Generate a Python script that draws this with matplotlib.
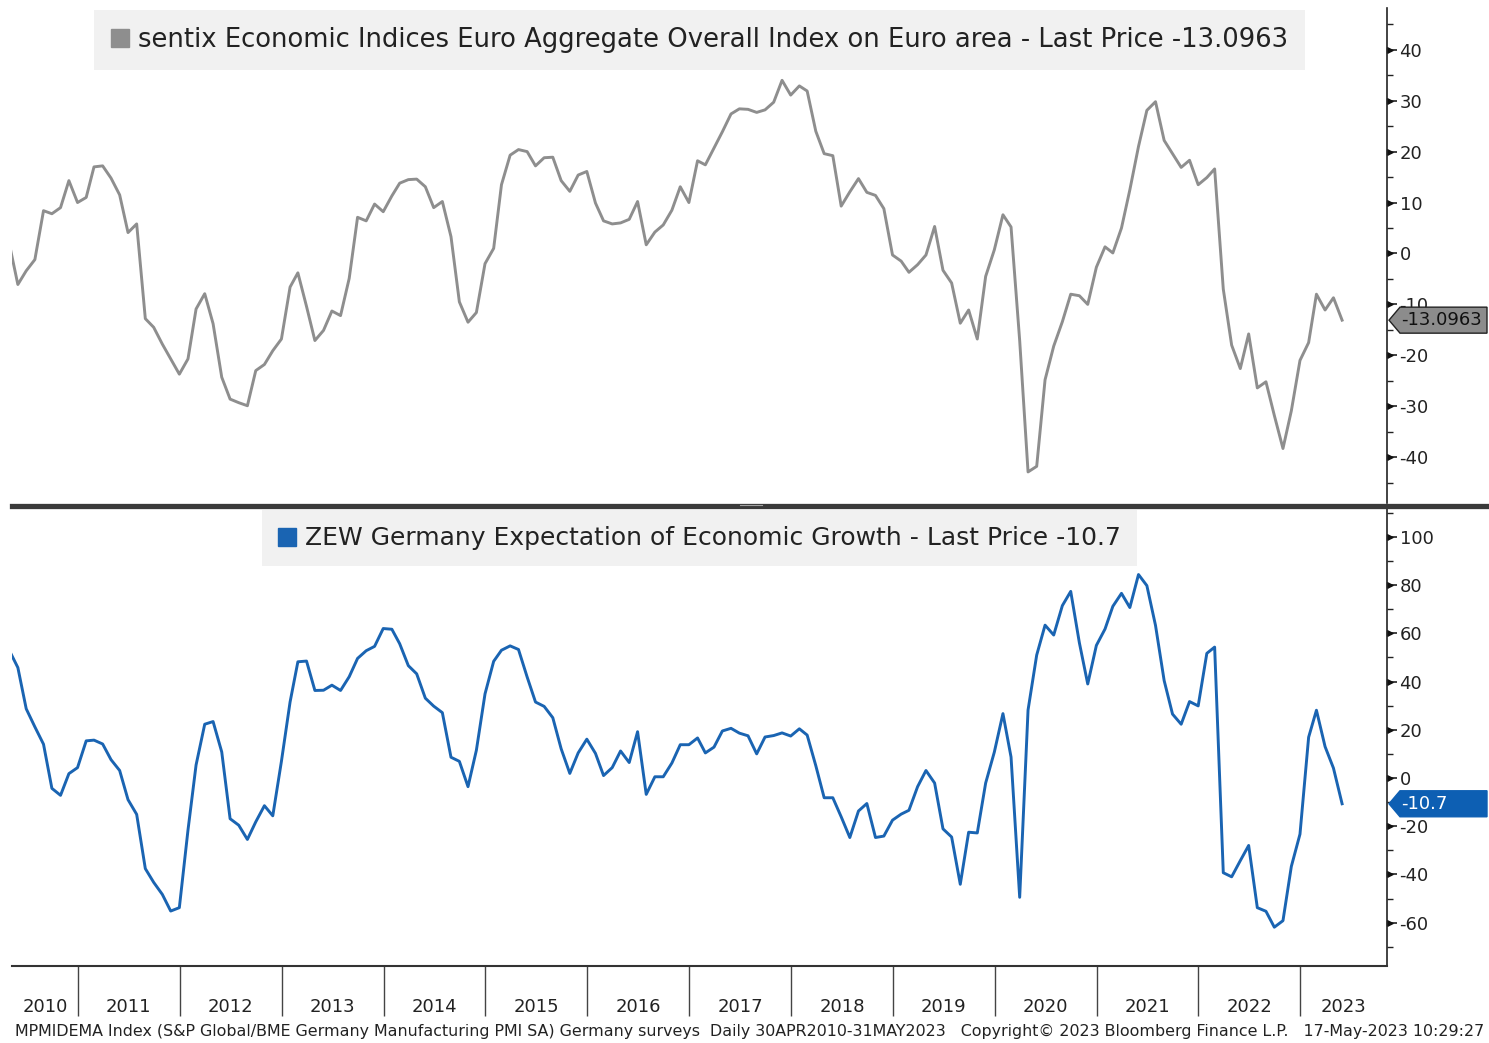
import numpy as np
import pandas as pd
import matplotlib
matplotlib.use("Agg")
import matplotlib.pyplot as plt
from matplotlib.lines import Line2D
from matplotlib.patches import Polygon
from matplotlib.path import Path
from matplotlib.transforms import IdentityTransform

plt.rcParams['font.family'] = ['DejaVu Sans']
plt.rcParams['axes.unicode_minus'] = False

# monthly data, month-end, Apr 2010 .. May 2023
dates = pd.date_range('2010-04-30', '2023-05-31', freq='ME')

sentix = [
    2.0, -6.1, -3.4, -1.2, 8.4, 7.8, 9.0, 14.3, 10.0,                      # 2010
    11.0, 17.0, 17.2, 14.8, 11.5, 4.1, 5.8, -12.8, -14.5, -17.8, -20.7, -23.7,  # 2011
    -20.7, -10.9, -7.9, -13.8, -24.3, -28.6, -29.3, -29.9, -23.0, -21.8, -19.1, -16.8,  # 2012
    -6.6, -3.8, -10.4, -17.1, -15.1, -11.3, -12.2, -4.9, 7.1, 6.4, 9.7, 8.2,  # 2013
    11.3, 13.8, 14.5, 14.6, 13.1, 9.0, 10.2, 3.3, -9.5, -13.5, -11.6, -2.0,  # 2014
    1.0, 13.5, 19.3, 20.4, 20.0, 17.2, 18.8, 18.9, 14.3, 12.2, 15.4, 16.1,   # 2015
    9.9, 6.4, 5.8, 6.0, 6.7, 10.2, 1.7, 4.2, 5.6, 8.5, 13.1, 10.0,          # 2016
    18.2, 17.4, 20.7, 23.9, 27.4, 28.4, 28.3, 27.7, 28.2, 29.7, 34.0, 31.1,  # 2017
    32.9, 31.9, 24.0, 19.6, 19.2, 9.3, 12.1, 14.7, 12.0, 11.4, 8.8, -0.3,    # 2018
    -1.5, -3.7, -2.2, -0.3, 5.3, -3.3, -5.8, -13.7, -11.1, -16.8, -4.5, 0.7,  # 2019
    7.6, 5.2, -17.1, -42.9, -41.8, -24.8, -18.2, -13.4, -8.0, -8.3, -10.0, -2.7,  # 2020
    1.3, 0.1, 5.0, 12.5, 21.0, 28.1, 29.8, 22.2, 19.6, 16.9, 18.3, 13.5,     # 2021
    14.9, 16.6, -7.0, -18.0, -22.6, -15.8, -26.4, -25.2, -31.8, -38.3, -30.9, -21.0,  # 2022
    -17.5, -8.0, -11.1, -8.7, -13.0963,                                      # 2023
]

zew = [
    53.0, 45.8, 28.7, 21.2, 14.0, -4.3, -7.2, 1.8, 4.3,                     # 2010
    15.4, 15.7, 14.1, 7.6, 3.1, -9.0, -15.1, -37.6, -43.3, -48.3, -55.2, -53.8,  # 2011
    -21.6, 5.4, 22.3, 23.4, 10.8, -16.9, -19.6, -25.5, -18.2, -11.5, -15.7, 6.9,  # 2012
    31.5, 48.2, 48.5, 36.3, 36.4, 38.5, 36.3, 42.0, 49.6, 52.8, 54.6, 62.0,  # 2013
    61.7, 55.7, 46.6, 43.2, 33.1, 29.8, 27.1, 8.6, 6.9, -3.6, 11.5, 34.9,    # 2014
    48.4, 53.0, 54.8, 53.3, 41.9, 31.5, 29.7, 25.0, 12.1, 1.9, 10.4, 16.1,   # 2015
    10.2, 1.0, 4.3, 11.2, 6.4, 19.2, -6.8, 0.5, 0.5, 6.2, 13.8, 13.8,        # 2016
    16.6, 10.4, 12.8, 19.5, 20.6, 18.6, 17.5, 10.0, 17.0, 17.6, 18.7, 17.4,  # 2017
    20.4, 17.8, 5.1, -8.2, -8.2, -16.1, -24.7, -13.7, -10.6, -24.7, -24.1, -17.5,  # 2018
    -15.0, -13.4, -3.6, 3.1, -2.1, -21.1, -24.5, -44.1, -22.5, -22.8, -2.1, 10.7,  # 2019
    26.7, 8.7, -49.5, 28.2, 51.0, 63.4, 59.3, 71.5, 77.4, 56.1, 39.0, 55.0,  # 2020
    61.8, 71.2, 76.6, 70.7, 84.4, 79.8, 63.3, 40.4, 26.5, 22.3, 31.7, 29.9,  # 2021
    51.7, 54.3, -39.3, -41.0, -34.3, -28.0, -53.8, -55.3, -61.9, -59.2, -36.7, -23.3,  # 2022
    16.9, 28.1, 13.0, 4.1, -10.7,                                            # 2023
]

sentix_label = "sentix Economic Indices Euro Aggregate Overall Index on Euro area - Last Price -13.0963"
zew_label = "ZEW Germany Expectation of Economic Growth - Last Price -10.7"
footer = ("MPMIDEMA Index (S&P Global/BME Germany Manufacturing PMI SA) Germany surveys  "
          "Daily 30APR2010-31MAY2023   Copyright\u00a9 2023 Bloomberg Finance L.P.   17-May-2023 10:29:27")
years = list(range(2010, 2024))

gray = '#8e8e8e'
blue = '#1a64b2'

W, H = 1489, 1043
fig = plt.figure(figsize=(W / 100, H / 100), dpi=100)
fig.patch.set_facecolor('white')

def px_axes(x0, y0, x1, y1):
    return fig.add_axes([x0 / W, 1 - y1 / H, (x1 - x0) / W, (y1 - y0) / H])

ax1 = px_axes(12, 8, 1387, 503)
ax2 = px_axes(12, 508, 1387, 966)

xmin = pd.Timestamp('2010-05-10')
xmax = pd.Timestamp('2023-11-08')

ax1.plot(dates, sentix, color=gray, lw=2.1, solid_joinstyle='round')
ax2.plot(dates, zew, color=blue, lw=2.1, solid_joinstyle='round')

ax1.set_ylim(-49, 48.2)
ax2.set_ylim(-78, 112)

tri = Path([(0, -0.5), (0, 0.5), (1.0, 0), (0, -0.5)])

for ax, major, minor in [(ax1, np.arange(-40, 41, 10), np.arange(-45, 46, 5)),
                         (ax2, np.arange(-60, 101, 20), np.arange(-70, 111, 10))]:
    ax.set_xlim(xmin, xmax)
    for s in ['left', 'top']:
        ax.spines[s].set_visible(False)
    ax.spines['right'].set_color('#222222')
    ax.spines['right'].set_linewidth(1.2)
    ax.yaxis.tick_right()
    ax.set_yticks(major)
    ax.set_yticks(minor, minor=True)
    ax.set_yticklabels([str(int(v)) for v in major])
    ax.tick_params(axis='y', which='major', direction='out', length=7, width=1.2,
                   colors='#222222', labelsize=13, pad=2)
    ax.tick_params(axis='y', which='minor', direction='out', length=4, width=1, colors='#222222')
    ax.plot(np.ones(len(major)), major, ls='none', marker=tri, ms=8, color='#111111',
            transform=ax.get_yaxis_transform(), clip_on=False)

ax1.spines['bottom'].set_visible(False)
ax1.tick_params(axis='x', which='both', bottom=False, labelbottom=False)

ax2.spines['bottom'].set_color('#333333')
ax2.spines['bottom'].set_linewidth(1.5)
bounds = [pd.Timestamp(f'{y}-01-01') for y in years[1:]]
ax2.set_xticks(bounds)
ax2.set_xticklabels([])
ax2.tick_params(axis='x', which='major', direction='out', length=36, width=1, colors='#444444')
centers = []
for y in years:
    a = max(pd.Timestamp(f'{y}-01-01'), xmin)
    b = min(pd.Timestamp(f'{y + 1}-01-01'), xmax)
    centers.append(a + (b - a) / 2)
ax2.set_xticks(centers, minor=True)
ax2.set_xticklabels([str(y) for y in years], minor=True)
ax2.tick_params(axis='x', which='minor', length=0, labelsize=13, pad=23, labelcolor='#222222')

# legends
for ax, col, lab, fs in [(ax1, gray, sentix_label, 18.6), (ax2, blue, zew_label, 18.0)]:
    h = Line2D([], [], ls='none', marker='s', ms=13, color=col)
    leg = ax.legend([h], [lab], loc='upper center', bbox_to_anchor=(0.5, 0.995),
                    fontsize=fs, frameon=True, fancybox=False, framealpha=1,
                    facecolor='#f1f1f1', edgecolor='none', handlelength=0.7,
                    handletextpad=0.35, borderpad=0.64, borderaxespad=0)
    for t in leg.get_texts():
        t.set_color('#222222')

# divider between panels
fig.add_artist(Line2D([12 / W, 1.0], [1 - 505.5 / H] * 2, color='#3a3a3a', lw=3.8))
fig.add_artist(Line2D([740 / W, 762 / W], [1 - 505 / H] * 2, color='#a0a0a0', lw=0.8))

# last value tags
def value_tag(ax, val, txt, fc, ec, tc):
    x0, y0 = ax.get_yaxis_transform().transform((1.0, val))
    hh = 13
    verts = [(x0 + 2, y0), (x0 + 13, y0 + hh), (W - 2, y0 + hh), (W - 2, y0 - hh), (x0 + 13, y0 - hh)]
    fig.add_artist(Polygon(verts, closed=True, transform=IdentityTransform(),
                           fc=fc, ec=ec, lw=1, zorder=10))
    fig.text((x0 + 14) / W, y0 / H, txt, ha='left', va='center', fontsize=13,
             color=tc, zorder=11)

value_tag(ax1, sentix[-1], '-13.0963', '#8c8c8c', '#222222', '#111111')
value_tag(ax2, zew[-1], '-10.7', '#0d5fb3', '#0d5fb3', 'white')

fig.text(15 / W, 1 - 1031 / H, footer, ha='left', va='center', fontsize=11.4, color='#222222')

fig.savefig('out.png', dpi=100, facecolor='white')
